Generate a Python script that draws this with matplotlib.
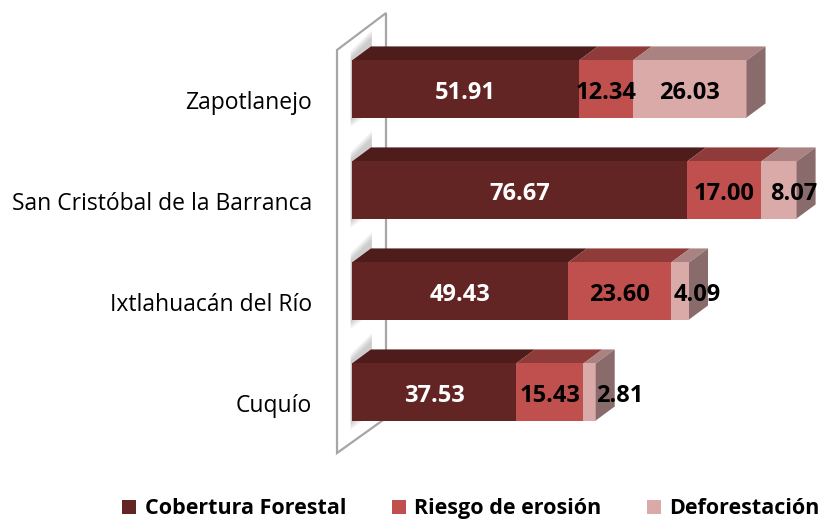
import matplotlib.pyplot as plt
from matplotlib.patches import Polygon, Patch

municipios = ["Cuquío", "Ixtlahuacán del Río", "San Cristóbal de la Barranca", "Zapotlanejo"]
cobertura = [37.53, 49.43, 76.67, 51.91]
riesgo = [15.43, 23.60, 17.00, 12.34]
deforestacion = [2.81, 4.09, 8.07, 26.03]
series_names = ["Cobertura Forestal", "Riesgo de erosión", "Deforestación"]

front_cols = ["#632523", "#C0504D", "#DAAAA9"]
top_cols = ["#4E1C1A", "#8E3B39", "#A98281"]
side_col = "#8A6B6B"
text_cols = ["white", "black", "black"]
# small last labels sit a bit to the right in the original
nudge = [6.9, 3.9, 3.4, 0.0]

plt.rcParams['font.family'] = ['Open Sans', 'DejaVu Sans']

fig = plt.figure(figsize=(8.25, 5.22), dpi=100)
ax = fig.add_axes([0, 0, 1, 1])
ax.set_xlim(-80.55, 108.24)
ax.set_ylim(-1.287, 3.881)
ax.axis('off')

H = 0.565   # front face height
DX = 4.35   # depth offset in x
DY = 0.139  # depth offset in y

# back wall
wall = Polygon([(-3.43, -0.604), (-3.43, 3.386), (7.78, 3.752), (7.78, -0.257)],
               closed=True, facecolor="white", edgecolor="#A6A6A6", lw=1.6, zorder=1)
ax.add_patch(wall)

data = [cobertura, riesgo, deforestacion]
for i, name in enumerate(municipios):
    y = i
    # soft shadow of the bar on the wall
    for k in range(5):
        e = 0.018 * k
        sh = Polygon([(-0.3, y - H / 2 - 0.02 - e), (-0.3, y + H / 2 + 0.02 + e),
                      (DX + 0.2, y + H / 2 + DY + 0.09 + e), (DX + 0.2, y - H / 2 + DY - e)],
                     closed=True, facecolor="#7F7F7F", edgecolor='none', alpha=0.09, zorder=1.5)
        ax.add_patch(sh)
        sh.set_clip_path(wall)
    left = 0.0
    for s in range(3):
        v = data[s][i]
        ax.barh(y, v, left=left, height=H, color=front_cols[s], zorder=3)
        top = Polygon([(left, y + H / 2), (left + DX, y + H / 2 + DY),
                       (left + v + DX, y + H / 2 + DY), (left + v, y + H / 2)],
                      closed=True, facecolor=top_cols[s], edgecolor='none', zorder=2)
        ax.add_patch(top)
        if s == 2:
            side = Polygon([(left + v, y - H / 2), (left + v + DX, y - H / 2 + DY),
                            (left + v + DX, y + H / 2 + DY), (left + v, y + H / 2)],
                           closed=True, facecolor=side_col, edgecolor='none', zorder=3)
            ax.add_patch(side)
        xc = left + v / 2
        if s == 2:
            xc += nudge[i]
        ax.text(xc, y - 0.04, f"{v:.2f}", ha='center', va='center', color=text_cols[s],
                fontsize=17, fontweight='bold', zorder=5)
        left += v
    ax.text(-9.15, y - 0.135, name, ha='right', va='center', fontsize=16.5, color='black')

handles = [Patch(facecolor=c, edgecolor='none') for c in front_cols]
fig.legend(handles, series_names, loc='lower center', bbox_to_anchor=(0.571, -0.032), ncol=3,
           frameon=False, handlelength=0.65, handleheight=0.65, handletextpad=0.4,
           columnspacing=2.1, prop={'weight': 'bold', 'size': 15.5})

fig.savefig("out.png", dpi=100)
